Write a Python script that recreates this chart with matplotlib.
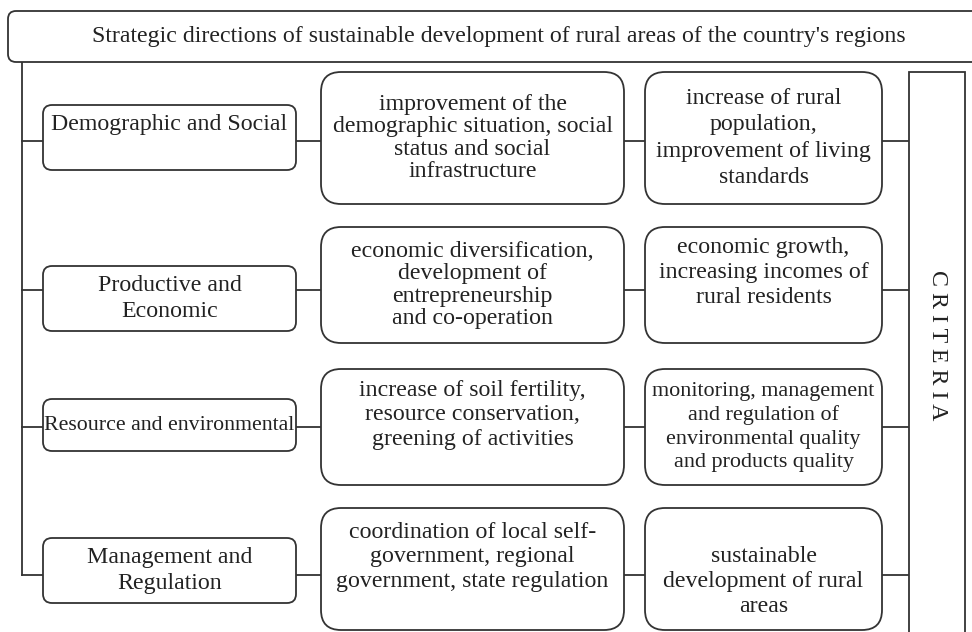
import matplotlib
matplotlib.use("Agg")
import matplotlib.pyplot as plt
from matplotlib.patches import FancyBboxPatch, Rectangle

title = "Strategic directions of sustainable development of rural areas of the country's regions"

directions = ["Demographic and Social\n",
              "Productive and\nEconomic",
              "Resource and environmental",
              "Management and\nRegulation"]

measures = ["improvement of the\ndemographic situation, social\nstatus and social\ninfrastructure",
            "economic diversification,\ndevelopment of\nentrepreneurship\nand co-operation",
            "increase of soil fertility,\nresource conservation,\ngreening of activities\n",
            "coordination of local self-\ngovernment, regional\ngovernment, state regulation\n"]

outcomes = ["increase of rural\npopulation,\nimprovement of living\nstandards",
            "economic growth,\nincreasing incomes of\nrural residents\n",
            "monitoring, management\nand regulation of\nenvironmental quality\nand products quality",
            "\nsustainable\ndevelopment of rural\nareas"]

criteria = "C R I T E R I A"

# layout in pixels
W, H = 972, 632
left_rows = [(105, 170), (266, 331), (399, 451), (538, 603)]
mid_rows = [(72, 204), (227, 343), (369, 485), (508, 630)]
link_y = [141, 290, 427, 575]
col_left = (43, 296)
col_mid = (321, 624)
col_out = (645, 882)
crit_x = (909, 965)
mid_ls = [1.08, 1.08, 1.2, 1.2]
out_ls = [1.33, 1.23, 1.23, 1.23]

ec = "#333333"
lw = 1.3
fs = 17.2

plt.rcParams['font.family'] = ['Liberation Serif', 'DejaVu Serif']

fig = plt.figure(figsize=(W / 100, H / 100), dpi=100)
ax = fig.add_axes([0, 0, 1, 1])
ax.set_xlim(0, W)
ax.set_ylim(H, 0)
ax.axis('off')
renderer = fig.canvas.get_renderer()


def box(x0, x1, y0, y1, r, text, ls=1.2, pad=1):
    p = FancyBboxPatch((x0, y0), x1 - x0, y1 - y0,
                       boxstyle="round,pad=0,rounding_size=%d" % r,
                       fc="white", ec=ec, lw=lw, zorder=2)
    ax.add_patch(p)
    t = ax.text((x0 + x1) / 2, (y0 + y1) / 2, text, ha='center', va='center',
                fontsize=fs, linespacing=ls, color="#222222", zorder=3)
    # shrink text that would not fit into its box, keep the line pitch
    w = t.get_window_extent(renderer).width
    room = x1 - x0 - 2 * pad
    if w > room:
        k = room / w
        t.set_fontsize(fs * k)
        t.set_linespacing(ls / k)


# top header
box(8, 990, 11, 62, 8, title)

# trunk line
ax.plot([22, 22], [62, link_y[-1]], color=ec, lw=lw, zorder=1)

for i in range(4):
    y = link_y[i]
    ly0, ly1 = left_rows[i]
    my0, my1 = mid_rows[i]
    ax.plot([22, crit_x[0]], [y, y], color=ec, lw=lw, zorder=1)
    box(col_left[0], col_left[1], ly0, ly1, 9, directions[i], ls=1.26)
    box(col_mid[0], col_mid[1], my0, my1, 20, measures[i], ls=mid_ls[i], pad=6)
    box(col_out[0], col_out[1], my0, my1, 20, outcomes[i], ls=out_ls[i], pad=7)

# criteria column
ax.add_patch(Rectangle((crit_x[0], 72), crit_x[1] - crit_x[0], 600,
                       fc="white", ec=ec, lw=lw, zorder=2))
ax.text((crit_x[0] + crit_x[1]) / 2, 345, criteria, rotation=-90,
        ha='center', va='center', fontsize=fs, color="#222222", zorder=3)

fig.savefig("out.png", dpi=100)
